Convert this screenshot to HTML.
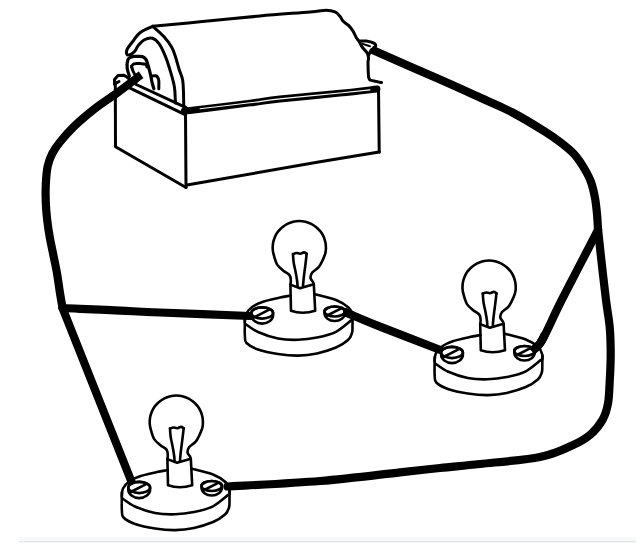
<!DOCTYPE html>
<html><head><meta charset="utf-8"><style>
html,body{margin:0;padding:0;background:#fff;width:640px;height:552px;overflow:hidden;font-family:"Liberation Sans",sans-serif;}
svg{display:block;position:absolute;left:0;top:0;}
</style></head><body>
<svg width="640" height="552" viewBox="0 0 640 552">
<rect x="19" y="537" width="617" height="4" fill="#f8f9fb"/>
<rect x="19" y="541" width="617" height="1" fill="#e6e6e6"/>
<rect x="19" y="542" width="617" height="0.8" fill="#f2f2f2"/>
<path d="M152.7,26.3 C160.6,25.6 182.1,23.5 200.0,21.8 C217.9,20.1 241.7,17.6 260.0,16.0 C278.3,14.3 299.0,12.9 310.0,11.9 C321.0,10.9 322.1,10.2 326.2,10.2 C330.4,10.2 332.7,10.9 335.0,11.9 C337.3,12.9 338.6,14.7 340.0,16.2 C341.4,17.8 341.6,19.7 343.1,21.2 C344.6,22.8 347.1,23.9 348.8,25.6 C350.4,27.3 351.9,29.3 353.1,31.2 C354.4,33.2 355.2,35.7 356.2,37.5 C357.3,39.3 358.4,40.2 359.4,41.9 C360.4,43.6 361.2,45.7 362.5,47.5 C363.8,49.3 365.9,50.8 366.9,52.5 C367.9,54.2 368.3,55.7 368.5,57.5 C368.7,59.3 367.9,60.1 368.0,63.5 C368.1,66.9 368.1,75.1 368.8,78.0 C369.6,80.9 370.4,80.0 372.5,80.7 C374.6,81.5 380.0,82.2 381.5,82.5" fill="none" stroke="#000" stroke-width="3.0" stroke-linecap="round" stroke-linejoin="round"/>
<path d="M152.7,26.3 C150.6,27.4 143.1,30.4 140.0,32.7 C136.9,35.0 136.0,37.3 133.9,40.0 C131.8,42.7 128.6,46.4 127.4,48.7 C126.2,51.1 126.3,53.1 126.8,54.1 C127.2,55.1 128.7,55.2 130.1,54.7 C131.5,54.2 133.6,52.5 135.0,50.9 C136.4,49.3 136.8,47.2 138.3,45.4 C139.8,43.6 141.7,41.2 144.0,40.0 C146.3,38.8 149.8,37.6 152.3,38.2 C154.8,38.8 156.8,40.6 159.0,43.6 C161.2,46.6 163.4,51.5 165.4,56.3 C167.4,61.1 169.3,67.5 170.8,72.6 C172.3,77.7 173.7,82.5 174.4,87.0 C175.2,91.5 175.1,97.1 175.3,99.8 C175.5,102.5 175.5,102.5 175.5,103.0" fill="none" stroke="#000" stroke-width="3.0" stroke-linecap="round" stroke-linejoin="round"/>
<path d="M152.7,26.3 C154.5,28.0 160.4,32.8 163.6,36.3 C166.8,39.8 169.8,43.9 171.7,47.2 C173.6,50.5 174.1,52.7 175.3,56.3 C176.5,59.9 177.8,65.1 179.0,69.0 C180.2,72.9 181.8,75.9 182.6,79.8 C183.3,83.7 183.3,88.3 183.5,92.5 C183.7,96.7 183.5,102.5 183.8,105.2 C184.1,107.9 185.2,108.0 185.5,108.5" fill="none" stroke="#000" stroke-width="3.0" stroke-linecap="round" stroke-linejoin="round"/>
<path d="M186.0,111.0 C186.7,110.9 179.3,111.8 190.0,110.5 C200.7,109.2 235.0,104.9 250.0,103.0 C265.0,101.1 265.0,100.6 280.0,99.0 C295.0,97.4 323.8,94.9 340.0,93.2 C356.2,91.5 370.8,89.7 377.0,89.0" fill="none" stroke="#000" stroke-width="6.8" stroke-linecap="round" stroke-linejoin="round"/>
<path d="M200.0,108.7 C208.3,107.7 236.7,104.4 250.0,102.8 C263.3,101.2 265.0,100.5 280.0,98.9 C295.0,97.3 325.0,94.5 340.0,93.0 C355.0,91.5 365.0,90.4 370.0,89.9" fill="none" stroke="#fff" stroke-width="1.1" stroke-linecap="round" stroke-linejoin="round"/>
<path d="M133.0,83.0 L186.1,107.7" fill="none" stroke="#000" stroke-width="3.0" stroke-linecap="round" stroke-linejoin="round"/>
<path d="M129.0,87.6 L184.5,114.3" fill="none" stroke="#000" stroke-width="3.0" stroke-linecap="round" stroke-linejoin="round"/>
<path d="M114.5,84.0 L114.5,79.5 L118.0,75.6 L123.6,75.2 L127.0,77.0 L131.0,80.5" fill="none" stroke="#000" stroke-width="3.0" stroke-linecap="round" stroke-linejoin="round"/>
<path d="M114.5,84.0 L119.0,81.5" fill="none" stroke="#000" stroke-width="3.0" stroke-linecap="round" stroke-linejoin="round"/>
<path d="M115.3,82.0 L115.5,146.8 L186.0,187.5" fill="none" stroke="#000" stroke-width="3.0" stroke-linecap="round" stroke-linejoin="round"/>
<path d="M185.5,113.0 L186.0,187.5" fill="none" stroke="#000" stroke-width="3.0" stroke-linecap="round" stroke-linejoin="round"/>
<path d="M187.0,185.0 L320.0,161.8 L379.2,152.0" fill="none" stroke="#000" stroke-width="3.0" stroke-linecap="round" stroke-linejoin="round"/>
<path d="M378.5,88.0 L379.2,152.0" fill="none" stroke="#000" stroke-width="3.0" stroke-linecap="round" stroke-linejoin="round"/>
<path d="M151.5,76.0 C152.1,76.0 154.1,75.7 155.0,75.8 C155.9,75.9 156.5,75.7 157.1,76.5 C157.7,77.3 158.5,78.6 158.8,80.6 C159.0,82.6 158.8,87.4 158.8,88.8" fill="none" stroke="#000" stroke-width="3.0" stroke-linecap="round" stroke-linejoin="round"/>
<path d="M129.4,76.0 C129.0,74.7 127.5,71.1 127.2,68.4 C126.9,65.7 127.2,61.9 127.8,60.0 C128.4,58.1 129.9,57.6 131.0,57.0 C132.1,56.4 132.4,56.6 134.3,56.5 C136.2,56.4 140.5,56.1 142.4,56.6 C144.3,57.1 145.1,58.2 146.0,59.5 C146.9,60.8 147.0,61.9 147.8,64.5 C148.6,67.1 149.9,71.8 150.6,74.9 C151.3,78.0 151.6,80.7 152.2,83.0 C152.8,85.3 153.6,87.8 153.9,88.8" fill="none" stroke="#000" stroke-width="3.2" stroke-linecap="round" stroke-linejoin="round"/>
<path d="M131.5,66.5 C131.9,66.0 132.6,64.3 134.0,63.8 C135.4,63.3 138.1,63.5 140.0,63.6 C141.9,63.7 144.3,63.6 145.5,64.2 C146.7,64.8 146.8,66.5 147.0,67.0" fill="none" stroke="#000" stroke-width="3.0" stroke-linecap="round" stroke-linejoin="round"/>
<path d="M131.5,66.5 C131.8,67.2 132.4,69.6 133.0,71.0 C133.6,72.4 134.7,74.3 135.0,75.0" fill="none" stroke="#000" stroke-width="3.0" stroke-linecap="round" stroke-linejoin="round"/>
<path d="M359.4,41.2 C360.5,41.2 363.9,40.7 366.2,41.0 C368.6,41.3 372.2,42.2 373.8,43.1 C375.3,44.0 376.0,45.1 375.6,46.2 C375.2,47.4 372.4,48.5 371.2,50.0 C370.1,51.5 369.2,54.2 368.8,55.0" fill="none" stroke="#000" stroke-width="3.0" stroke-linecap="round" stroke-linejoin="round"/>
<path d="M362.5,43.8 C363.1,44.0 364.8,44.6 366.0,45.0 C367.2,45.4 369.3,46.0 370.0,46.2" fill="none" stroke="#000" stroke-width="2.0" stroke-linecap="round" stroke-linejoin="round"/>
<path d="M141.2,74.8 C140.6,75.2 142.1,74.1 137.9,77.2 C133.7,80.3 123.3,88.3 116.1,93.6 C108.8,98.9 101.4,103.5 94.4,109.0 C87.4,114.5 79.8,120.9 74.0,126.5 C68.2,132.1 63.0,138.2 59.4,142.7 C55.8,147.2 54.2,149.7 52.2,153.6 C50.2,157.5 48.8,161.1 47.7,166.2 C46.6,171.4 46.1,178.4 45.8,184.4 C45.5,190.4 45.6,196.6 45.8,202.5 C46.0,208.4 46.5,214.1 47.2,220.0 C47.9,225.9 48.8,232.1 49.9,238.1 C51.0,244.1 52.4,250.2 53.6,256.2 C54.8,262.3 56.2,268.4 57.2,274.4 C58.2,280.4 59.0,286.9 59.9,292.5 C60.8,298.1 62.1,305.4 62.6,308.0" fill="none" stroke="#000" stroke-width="8.2" stroke-linecap="butt" stroke-linejoin="round"/>
<path d="M62.5,308.0 C65.4,308.1 70.4,308.3 80.0,308.8 C89.6,309.2 106.7,310.0 120.0,310.6 C133.3,311.2 138.3,311.6 160.0,312.5 C181.7,313.4 235.0,315.4 250.0,316.0" fill="none" stroke="#000" stroke-width="8.2" stroke-linecap="round" stroke-linejoin="round"/>
<path d="M62.5,308.0 L132.0,483.0" fill="none" stroke="#000" stroke-width="8.2" stroke-linecap="round" stroke-linejoin="round"/>
<path d="M371.5,49.5 C382.9,54.5 421.9,71.6 440.0,79.6 C458.1,87.6 467.9,92.1 480.0,97.6 C492.1,103.1 501.8,106.9 512.5,112.5 C523.2,118.1 536.1,126.1 544.0,131.0 C551.9,135.9 555.0,138.2 560.0,142.0 C565.0,145.8 570.0,149.7 574.0,154.0 C578.0,158.3 581.2,163.3 584.0,168.0 C586.8,172.7 589.2,177.0 591.0,182.0 C592.8,187.0 594.0,192.7 595.0,198.0 C596.0,203.3 596.5,208.8 597.0,214.0 C597.5,219.2 597.8,226.5 598.0,229.0" fill="none" stroke="#000" stroke-width="8.2" stroke-linecap="butt" stroke-linejoin="round"/>
<path d="M598.0,229.0 C598.5,233.2 599.4,242.5 600.7,254.3 C602.0,266.1 604.5,287.9 606.0,300.0 C607.5,312.1 608.9,318.0 609.7,327.0 C610.5,336.0 610.7,344.9 610.7,354.0 C610.7,363.1 610.2,373.2 609.7,381.5 C609.2,389.8 609.2,397.1 608.0,403.5 C606.8,409.9 605.4,414.8 602.5,419.9 C599.6,425.0 595.7,430.1 590.7,434.3 C585.7,438.5 581.1,441.4 572.6,445.2 C564.1,449.0 555.4,453.9 540.0,457.0 C524.6,460.1 496.7,462.2 480.0,464.0 C463.3,465.8 453.3,466.6 440.0,468.0 C426.7,469.4 420.0,470.1 400.0,472.3 C380.0,474.5 348.8,478.6 320.0,481.0 C291.2,483.4 242.9,485.6 227.5,486.5" fill="none" stroke="#000" stroke-width="8.2" stroke-linecap="round" stroke-linejoin="round"/>
<path d="M598.0,230.0 C592.0,241.7 571.4,281.1 561.7,300.0 C552.0,318.9 546.0,334.8 540.0,343.5 C534.0,352.2 528.3,350.6 526.0,352.0" fill="none" stroke="#000" stroke-width="8.2" stroke-linecap="round" stroke-linejoin="round"/>
<path d="M345.0,312.0 C350.8,314.4 364.2,320.3 380.0,326.6 C395.8,332.9 429.8,345.9 439.7,349.8" fill="none" stroke="#000" stroke-width="8.2" stroke-linecap="round" stroke-linejoin="round"/>
<g><path d="M290.4,284.5 C290.5,283.8 290.9,282.0 290.8,280.4 C290.7,278.8 290.7,276.7 289.5,275.1 C288.3,273.5 285.4,272.5 283.4,270.8 C281.4,269.0 278.9,267.2 277.2,264.6 C275.6,262.0 274.5,257.6 273.8,255.0 C273.0,252.4 272.8,251.0 272.7,249.0 C272.6,246.9 272.8,244.8 273.1,242.8 C273.5,240.8 274.1,238.8 274.9,236.9 C275.7,235.1 276.8,233.3 278.0,231.6 C279.3,230.0 280.7,228.5 282.3,227.2 C283.8,225.9 285.6,224.7 287.4,223.8 C289.2,222.9 291.2,222.2 293.2,221.7 C295.2,221.2 297.3,221.0 299.3,221.0 C301.3,221.0 303.4,221.2 305.4,221.7 C307.4,222.2 309.4,222.9 311.2,223.8 C313.0,224.7 314.8,225.9 316.3,227.2 C317.9,228.5 319.3,230.0 320.6,231.6 C321.8,233.3 322.9,235.1 323.7,236.9 C324.5,238.8 325.1,240.8 325.5,242.8 C325.8,244.8 326.0,246.9 325.9,249.0 C325.8,251.0 325.9,252.1 324.8,255.0 C323.7,257.9 321.3,263.5 319.2,266.4 C317.2,269.3 313.7,270.6 312.2,272.5 C310.8,274.4 310.4,276.1 310.5,277.8 C310.6,279.4 312.6,281.0 313.1,282.1 C313.7,283.2 313.7,284.1 313.8,284.5" fill="none" stroke="#000" stroke-width="2.6" stroke-linecap="round" stroke-linejoin="round"/>
<path d="M297.6,286.5 C297.5,285.7 297.5,283.9 297.2,281.5 C296.9,279.1 296.3,275.4 295.7,272.4 C295.1,269.3 294.2,265.9 293.8,263.2 C293.3,260.5 293.2,257.5 293.1,256.0 C293.0,254.5 293.0,254.4 293.0,254.1" fill="none" stroke="#000" stroke-width="2.6" stroke-linecap="round" stroke-linejoin="round"/>
<path d="M293.0,254.1 C293.6,253.9 295.2,253.1 296.4,253.0 C297.6,252.9 298.9,253.8 300.2,253.7 C301.5,253.6 302.9,252.4 304.0,252.4 C305.1,252.4 306.2,253.5 306.7,253.7" fill="none" stroke="#000" stroke-width="2.6" stroke-linecap="round" stroke-linejoin="round"/>
<path d="M306.7,253.7 C306.5,255.3 306.0,260.1 305.6,263.2 C305.2,266.3 304.8,269.2 304.4,272.4 C304.0,275.6 303.5,279.9 303.3,282.3 C303.1,284.7 303.1,285.8 303.0,286.5" fill="none" stroke="#000" stroke-width="2.6" stroke-linecap="round" stroke-linejoin="round"/>
<path d="M290.4,284.6 L300,288.2 L313.8,284.3 L315.2,310.8 Q302.5,314.8 291,310.8 Z" fill="#fff" stroke="#000" stroke-width="2.6" stroke-linejoin="round"/>
<path d="M244.8,322.0 C245.0,320.7 244.7,316.5 246.0,314.0 C247.3,311.5 249.7,308.8 252.5,306.8 C255.3,304.8 258.4,303.3 263.0,301.8 C267.6,300.3 275.4,298.7 280.0,297.6 C284.6,296.6 289.0,295.9 290.8,295.5" fill="none" stroke="#000" stroke-width="2.6" stroke-linecap="round" stroke-linejoin="round"/>
<path d="M315.7,294.4 C319.1,295.3 330.5,297.8 336.0,300.0 C341.5,302.2 345.9,305.1 348.7,307.7 C351.4,310.2 351.9,313.2 352.5,315.3 C353.1,317.4 352.5,319.2 352.5,320.0" fill="none" stroke="#000" stroke-width="2.6" stroke-linecap="round" stroke-linejoin="round"/>
<path d="M245.5,324.0 C247.6,325.3 252.6,329.6 258.0,332.0 C263.4,334.4 271.3,337.2 278.0,338.5 C284.7,339.8 291.5,340.0 298.0,339.8 C304.5,339.6 310.7,338.8 317.0,337.5 C323.3,336.2 330.3,334.7 336.0,331.8 C341.7,328.9 348.7,322.3 351.2,320.4" fill="none" stroke="#000" stroke-width="2.6" stroke-linecap="round" stroke-linejoin="round"/>
<path d="M244.8,318.0 C244.8,319.3 244.8,323.0 244.8,326.0 C244.8,329.0 244.6,333.2 244.9,336.0 C245.2,338.8 244.3,340.8 246.5,343.0 C248.7,345.2 252.8,347.7 258.0,349.5 C263.2,351.3 271.3,353.0 278.0,354.0 C284.7,355.0 291.5,355.7 298.0,355.6 C304.5,355.5 310.7,354.8 317.0,353.4 C323.3,352.0 330.8,349.7 336.0,347.5 C341.2,345.3 345.3,342.4 348.0,340.0 C350.7,337.6 351.2,335.5 352.0,333.0 C352.8,330.5 352.4,327.8 352.5,325.0 C352.6,322.2 352.5,317.5 352.5,316.0" fill="none" stroke="#000" stroke-width="2.6" stroke-linecap="round" stroke-linejoin="round"/>
<path d="M251.3,313.0 A10.9,5.6 0 0 1 273.1,313.0 L273.1,315.0 A10.9,8.6 0 0 1 251.3,315.0 Z" fill="#fff" stroke="#000" stroke-width="2.6" stroke-linejoin="round"/>
<ellipse cx="262.2" cy="313.0" rx="10.9" ry="5.6" fill="none" stroke="#000" stroke-width="2.6"/>
<path d="M253.7,317.5 L268.7,309.8" fill="none" stroke="#000" stroke-width="2.6" stroke-linecap="round" stroke-linejoin="round"/>
<path d="M324.5,311.5 A10.2,5.0 0 0 1 344.9,311.5 L344.9,313.3 A10.2,7.7 0 0 1 324.5,313.3 Z" fill="#fff" stroke="#000" stroke-width="2.6" stroke-linejoin="round"/>
<ellipse cx="334.7" cy="311.5" rx="10.2" ry="5.0" fill="none" stroke="#000" stroke-width="2.6"/>
<path d="M326.2,316.0 L341.2,308.3" fill="none" stroke="#000" stroke-width="2.6" stroke-linecap="round" stroke-linejoin="round"/></g>
<g transform="translate(189.8,39.5)"><path d="M290.4,284.5 C290.5,283.8 290.9,282.0 290.8,280.4 C290.7,278.8 290.7,276.7 289.5,275.1 C288.3,273.5 285.4,272.5 283.4,270.8 C281.4,269.0 278.9,267.2 277.2,264.6 C275.6,262.0 274.5,257.6 273.8,255.0 C273.0,252.4 272.8,251.0 272.7,249.0 C272.6,246.9 272.8,244.8 273.1,242.8 C273.5,240.8 274.1,238.8 274.9,236.9 C275.7,235.1 276.8,233.3 278.0,231.6 C279.3,230.0 280.7,228.5 282.3,227.2 C283.8,225.9 285.6,224.7 287.4,223.8 C289.2,222.9 291.2,222.2 293.2,221.7 C295.2,221.2 297.3,221.0 299.3,221.0 C301.3,221.0 303.4,221.2 305.4,221.7 C307.4,222.2 309.4,222.9 311.2,223.8 C313.0,224.7 314.8,225.9 316.3,227.2 C317.9,228.5 319.3,230.0 320.6,231.6 C321.8,233.3 322.9,235.1 323.7,236.9 C324.5,238.8 325.1,240.8 325.5,242.8 C325.8,244.8 326.0,246.9 325.9,249.0 C325.8,251.0 325.9,252.1 324.8,255.0 C323.7,257.9 321.3,263.5 319.2,266.4 C317.2,269.3 313.7,270.6 312.2,272.5 C310.8,274.4 310.4,276.1 310.5,277.8 C310.6,279.4 312.6,281.0 313.1,282.1 C313.7,283.2 313.7,284.1 313.8,284.5" fill="none" stroke="#000" stroke-width="2.6" stroke-linecap="round" stroke-linejoin="round"/>
<path d="M297.6,286.5 C297.5,285.7 297.5,283.9 297.2,281.5 C296.9,279.1 296.3,275.4 295.7,272.4 C295.1,269.3 294.2,265.9 293.8,263.2 C293.3,260.5 293.2,257.5 293.1,256.0 C293.0,254.5 293.0,254.4 293.0,254.1" fill="none" stroke="#000" stroke-width="2.6" stroke-linecap="round" stroke-linejoin="round"/>
<path d="M293.0,254.1 C293.6,253.9 295.2,253.1 296.4,253.0 C297.6,252.9 298.9,253.8 300.2,253.7 C301.5,253.6 302.9,252.4 304.0,252.4 C305.1,252.4 306.2,253.5 306.7,253.7" fill="none" stroke="#000" stroke-width="2.6" stroke-linecap="round" stroke-linejoin="round"/>
<path d="M306.7,253.7 C306.5,255.3 306.0,260.1 305.6,263.2 C305.2,266.3 304.8,269.2 304.4,272.4 C304.0,275.6 303.5,279.9 303.3,282.3 C303.1,284.7 303.1,285.8 303.0,286.5" fill="none" stroke="#000" stroke-width="2.6" stroke-linecap="round" stroke-linejoin="round"/>
<path d="M290.4,284.6 L300,288.2 L313.8,284.3 L315.2,310.8 Q302.5,314.8 291,310.8 Z" fill="#fff" stroke="#000" stroke-width="2.6" stroke-linejoin="round"/>
<path d="M244.8,322.0 C245.0,320.7 244.7,316.5 246.0,314.0 C247.3,311.5 249.7,308.8 252.5,306.8 C255.3,304.8 258.4,303.3 263.0,301.8 C267.6,300.3 275.4,298.7 280.0,297.6 C284.6,296.6 289.0,295.9 290.8,295.5" fill="none" stroke="#000" stroke-width="2.6" stroke-linecap="round" stroke-linejoin="round"/>
<path d="M315.7,294.4 C319.1,295.3 330.5,297.8 336.0,300.0 C341.5,302.2 345.9,305.1 348.7,307.7 C351.4,310.2 351.9,313.2 352.5,315.3 C353.1,317.4 352.5,319.2 352.5,320.0" fill="none" stroke="#000" stroke-width="2.6" stroke-linecap="round" stroke-linejoin="round"/>
<path d="M245.5,324.0 C247.6,325.3 252.6,329.6 258.0,332.0 C263.4,334.4 271.3,337.2 278.0,338.5 C284.7,339.8 291.5,340.0 298.0,339.8 C304.5,339.6 310.7,338.8 317.0,337.5 C323.3,336.2 330.3,334.7 336.0,331.8 C341.7,328.9 348.7,322.3 351.2,320.4" fill="none" stroke="#000" stroke-width="2.6" stroke-linecap="round" stroke-linejoin="round"/>
<path d="M244.8,318.0 C244.8,319.3 244.8,323.0 244.8,326.0 C244.8,329.0 244.6,333.2 244.9,336.0 C245.2,338.8 244.3,340.8 246.5,343.0 C248.7,345.2 252.8,347.7 258.0,349.5 C263.2,351.3 271.3,353.0 278.0,354.0 C284.7,355.0 291.5,355.7 298.0,355.6 C304.5,355.5 310.7,354.8 317.0,353.4 C323.3,352.0 330.8,349.7 336.0,347.5 C341.2,345.3 345.3,342.4 348.0,340.0 C350.7,337.6 351.2,335.5 352.0,333.0 C352.8,330.5 352.4,327.8 352.5,325.0 C352.6,322.2 352.5,317.5 352.5,316.0" fill="none" stroke="#000" stroke-width="2.6" stroke-linecap="round" stroke-linejoin="round"/>
<path d="M251.3,313.0 A10.9,5.6 0 0 1 273.1,313.0 L273.1,315.0 A10.9,8.6 0 0 1 251.3,315.0 Z" fill="#fff" stroke="#000" stroke-width="2.6" stroke-linejoin="round"/>
<ellipse cx="262.2" cy="313.0" rx="10.9" ry="5.6" fill="none" stroke="#000" stroke-width="2.6"/>
<path d="M253.7,317.5 L268.7,309.8" fill="none" stroke="#000" stroke-width="2.6" stroke-linecap="round" stroke-linejoin="round"/>
<path d="M324.5,311.5 A10.2,5.0 0 0 1 344.9,311.5 L344.9,313.3 A10.2,7.7 0 0 1 324.5,313.3 Z" fill="#fff" stroke="#000" stroke-width="2.6" stroke-linejoin="round"/>
<ellipse cx="334.7" cy="311.5" rx="10.2" ry="5.0" fill="none" stroke="#000" stroke-width="2.6"/>
<path d="M326.2,316.0 L341.2,308.3" fill="none" stroke="#000" stroke-width="2.6" stroke-linecap="round" stroke-linejoin="round"/></g>
<g transform="translate(-123,174.5)"><path d="M290.4,284.5 C290.5,283.8 290.9,282.0 290.8,280.4 C290.7,278.8 290.7,276.7 289.5,275.1 C288.3,273.5 285.4,272.5 283.4,270.8 C281.4,269.0 278.9,267.2 277.2,264.6 C275.6,262.0 274.5,257.6 273.8,255.0 C273.0,252.4 272.8,251.0 272.7,249.0 C272.6,246.9 272.8,244.8 273.1,242.8 C273.5,240.8 274.1,238.8 274.9,236.9 C275.7,235.1 276.8,233.3 278.0,231.6 C279.3,230.0 280.7,228.5 282.3,227.2 C283.8,225.9 285.6,224.7 287.4,223.8 C289.2,222.9 291.2,222.2 293.2,221.7 C295.2,221.2 297.3,221.0 299.3,221.0 C301.3,221.0 303.4,221.2 305.4,221.7 C307.4,222.2 309.4,222.9 311.2,223.8 C313.0,224.7 314.8,225.9 316.3,227.2 C317.9,228.5 319.3,230.0 320.6,231.6 C321.8,233.3 322.9,235.1 323.7,236.9 C324.5,238.8 325.1,240.8 325.5,242.8 C325.8,244.8 326.0,246.9 325.9,249.0 C325.8,251.0 325.9,252.1 324.8,255.0 C323.7,257.9 321.3,263.5 319.2,266.4 C317.2,269.3 313.7,270.6 312.2,272.5 C310.8,274.4 310.4,276.1 310.5,277.8 C310.6,279.4 312.6,281.0 313.1,282.1 C313.7,283.2 313.7,284.1 313.8,284.5" fill="none" stroke="#000" stroke-width="2.6" stroke-linecap="round" stroke-linejoin="round"/>
<path d="M297.6,286.5 C297.5,285.7 297.5,283.9 297.2,281.5 C296.9,279.1 296.3,275.4 295.7,272.4 C295.1,269.3 294.2,265.9 293.8,263.2 C293.3,260.5 293.2,257.5 293.1,256.0 C293.0,254.5 293.0,254.4 293.0,254.1" fill="none" stroke="#000" stroke-width="2.6" stroke-linecap="round" stroke-linejoin="round"/>
<path d="M293.0,254.1 C293.6,253.9 295.2,253.1 296.4,253.0 C297.6,252.9 298.9,253.8 300.2,253.7 C301.5,253.6 302.9,252.4 304.0,252.4 C305.1,252.4 306.2,253.5 306.7,253.7" fill="none" stroke="#000" stroke-width="2.6" stroke-linecap="round" stroke-linejoin="round"/>
<path d="M306.7,253.7 C306.5,255.3 306.0,260.1 305.6,263.2 C305.2,266.3 304.8,269.2 304.4,272.4 C304.0,275.6 303.5,279.9 303.3,282.3 C303.1,284.7 303.1,285.8 303.0,286.5" fill="none" stroke="#000" stroke-width="2.6" stroke-linecap="round" stroke-linejoin="round"/>
<path d="M290.4,284.6 L300,288.2 L313.8,284.3 L315.2,310.8 Q302.5,314.8 291,310.8 Z" fill="#fff" stroke="#000" stroke-width="2.6" stroke-linejoin="round"/>
<path d="M244.8,322.0 C245.0,320.7 244.7,316.5 246.0,314.0 C247.3,311.5 249.7,308.8 252.5,306.8 C255.3,304.8 258.4,303.3 263.0,301.8 C267.6,300.3 275.4,298.7 280.0,297.6 C284.6,296.6 289.0,295.9 290.8,295.5" fill="none" stroke="#000" stroke-width="2.6" stroke-linecap="round" stroke-linejoin="round"/>
<path d="M315.7,294.4 C319.1,295.3 330.5,297.8 336.0,300.0 C341.5,302.2 345.9,305.1 348.7,307.7 C351.4,310.2 351.9,313.2 352.5,315.3 C353.1,317.4 352.5,319.2 352.5,320.0" fill="none" stroke="#000" stroke-width="2.6" stroke-linecap="round" stroke-linejoin="round"/>
<path d="M245.5,324.0 C247.6,325.3 252.6,329.6 258.0,332.0 C263.4,334.4 271.3,337.2 278.0,338.5 C284.7,339.8 291.5,340.0 298.0,339.8 C304.5,339.6 310.7,338.8 317.0,337.5 C323.3,336.2 330.3,334.7 336.0,331.8 C341.7,328.9 348.7,322.3 351.2,320.4" fill="none" stroke="#000" stroke-width="2.6" stroke-linecap="round" stroke-linejoin="round"/>
<path d="M244.8,318.0 C244.8,319.3 244.8,323.0 244.8,326.0 C244.8,329.0 244.6,333.2 244.9,336.0 C245.2,338.8 244.3,340.8 246.5,343.0 C248.7,345.2 252.8,347.7 258.0,349.5 C263.2,351.3 271.3,353.0 278.0,354.0 C284.7,355.0 291.5,355.7 298.0,355.6 C304.5,355.5 310.7,354.8 317.0,353.4 C323.3,352.0 330.8,349.7 336.0,347.5 C341.2,345.3 345.3,342.4 348.0,340.0 C350.7,337.6 351.2,335.5 352.0,333.0 C352.8,330.5 352.4,327.8 352.5,325.0 C352.6,322.2 352.5,317.5 352.5,316.0" fill="none" stroke="#000" stroke-width="2.6" stroke-linecap="round" stroke-linejoin="round"/>
<path d="M251.3,313.0 A10.9,5.6 0 0 1 273.1,313.0 L273.1,315.0 A10.9,8.6 0 0 1 251.3,315.0 Z" fill="#fff" stroke="#000" stroke-width="2.6" stroke-linejoin="round"/>
<ellipse cx="262.2" cy="313.0" rx="10.9" ry="5.6" fill="none" stroke="#000" stroke-width="2.6"/>
<path d="M253.7,317.5 L268.7,309.8" fill="none" stroke="#000" stroke-width="2.6" stroke-linecap="round" stroke-linejoin="round"/>
<path d="M324.5,311.5 A10.2,5.0 0 0 1 344.9,311.5 L344.9,313.3 A10.2,7.7 0 0 1 324.5,313.3 Z" fill="#fff" stroke="#000" stroke-width="2.6" stroke-linejoin="round"/>
<ellipse cx="334.7" cy="311.5" rx="10.2" ry="5.0" fill="none" stroke="#000" stroke-width="2.6"/>
<path d="M326.2,316.0 L341.2,308.3" fill="none" stroke="#000" stroke-width="2.6" stroke-linecap="round" stroke-linejoin="round"/></g>
<path d="M545.0,334.0 C544.2,335.6 542.2,340.6 540.0,343.5 C537.8,346.4 533.3,350.2 532.0,351.5" fill="none" stroke="#000" stroke-width="8.2" stroke-linecap="butt" stroke-linejoin="round"/>
<path d="M343.5,311.5 L352.0,315.0" fill="none" stroke="#000" stroke-width="8.2" stroke-linecap="butt" stroke-linejoin="round"/>
</svg>
</body></html>
